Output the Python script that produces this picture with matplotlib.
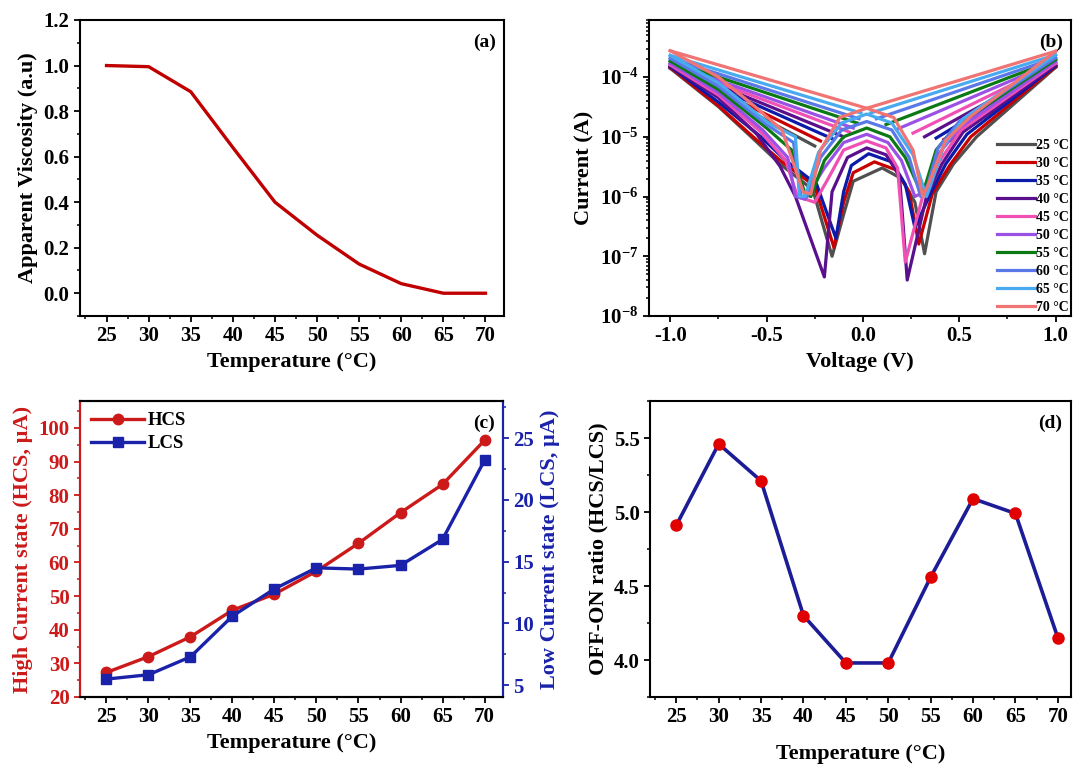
import numpy as np
import matplotlib
matplotlib.use("Agg")
import matplotlib.pyplot as plt
from matplotlib.ticker import MultipleLocator, FuncFormatter, LogLocator

# ----------------------------------------------------------------------
# DATA
# ----------------------------------------------------------------------
temps = [25, 30, 35, 40, 45, 50, 55, 60, 65, 70]

# (a) apparent viscosity
viscosity = [1.0, 0.995, 0.885, 0.64, 0.40, 0.255, 0.128, 0.042, 0.0, 0.0]

# (c) high / low current state (uA)
hcs = [27.3, 32.0, 37.9, 45.8, 50.6, 57.4, 65.7, 74.8, 83.2, 96.3]
lcs = [5.5, 5.85, 7.3, 10.6, 12.8, 14.5, 14.4, 14.7, 16.8, 23.2]

# (d) OFF-ON ratio
ratio = [4.91, 5.46, 5.21, 4.30, 3.98, 3.98, 4.56, 5.09, 4.99, 4.15]

# (b) I-V sweeps: key points (V in volts, I in amps)
iv_labels = ["25 °C", "30 °C", "35 °C", "40 °C", "45 °C",
             "50 °C", "55 °C", "60 °C", "65 °C", "70 °C"]
iv_colors = ["#505050", "#c80000", "#0c1aa8", "#5a0f8c", "#f050b4",
             "#9b50e6", "#0b7a14", "#5b78e8", "#4aaaf0", "#f07474"]
end_v_neg = [-1.0] * 10
end_v_pos = [1.0] * 10
i_neg_end = [1.4e-4, 1.45e-4, 1.5e-4, 1.55e-4, 1.6e-4, 1.7e-4, 1.85e-4, 2.05e-4, 2.3e-4, 2.75e-4]
i_pos_end = [1.45e-4, 1.5e-4, 1.55e-4, 1.6e-4, 1.7e-4, 1.8e-4, 1.95e-4, 2.1e-4, 2.35e-4, 2.7e-4]

# inner ends of the upper (high current) branches
up_left_v = [-0.25, -0.22, -0.15, -0.10, -0.07, -0.05, -0.03, -0.02, -0.01, 0.02]
up_left_i = [7e-6, 8.5e-6, 9e-6, 1.0e-5, 1.2e-5, 1.4e-5, 1.7e-5, 2.0e-5, 2.5e-5, 3.0e-5]
up_right_v = [0.45, 0.42, 0.38, 0.32, 0.26, 0.18, 0.12, 0.07, 0.04, 0.02]
up_right_i = [8.5e-6, 9e-6, 9.5e-6, 1.0e-5, 1.15e-5, 1.35e-5, 1.6e-5, 2.0e-5, 2.5e-5, 3.0e-5]

# lower (low current) branch, negative side, from -1 V inwards
mid_l_v = [-0.75] * 10
mid_l_i = [3.2e-5, 3.3e-5, 3.8e-5, 4.5e-5, 5e-5, 5.5e-5, 6.2e-5, 7e-5, 8e-5, 1.0e-4]
knee_l_v = [-0.58, -0.57, -0.53, -0.55, -0.53, -0.52, -0.50, -0.50, -0.49, -0.56]
knee_l_i = [1.0e-5, 1.0e-5, 1.0e-5, 1.1e-5, 1.2e-5, 1.3e-5, 1.4e-5, 1.6e-5, 1.7e-5, 3.2e-5]
shld_l_v = [-0.43, -0.42, -0.40, -0.43, -0.40, -0.39, -0.37, -0.36, -0.35, -0.42]
shld_l_i = [3.5e-6, 3.8e-6, 4e-6, 3.2e-6, 4e-6, 4.5e-6, 6e-6, 8e-6, 1.0e-5, 1.3e-5]
foot_l_v = [-0.26, -0.25, -0.24, -0.35, -0.34, -0.35, -0.30, -0.32, -0.33, -0.31]
foot_l_i = [1.3e-6, 1.5e-6, 1.6e-6, 1.0e-6, 1.0e-6, 1.0e-6, 1.1e-6, 1.0e-6, 1.0e-6, 1.2e-6]
dip_l_v = [-0.16, -0.15, -0.14, -0.20, -0.25, -0.30, -0.27, -0.29, -0.30, -0.27]
dip_l_i = [1.0e-7, 1.4e-7, 2.0e-7, 4.5e-8, 8e-7, 9e-7, 1.0e-6, 1.0e-6, 1.0e-6, 1.1e-6]

# central dome (arch) between the two dips
dome_a_v = [-0.10, -0.10, -0.10, -0.16, -0.18, -0.20, -0.20, -0.22, -0.23, -0.22]
dome_a_i = [5e-7, 8e-7, 1.2e-6, 1.2e-6, 2e-6, 3e-6, 4e-6, 4.5e-6, 5.5e-6, 6e-6]
dome_b_v = [-0.05, -0.05, -0.06, -0.08, -0.10, -0.10, -0.10, -0.11, -0.11, -0.12]
dome_b_i = [1.8e-6, 2.5e-6, 3.3e-6, 4.5e-6, 6e-6, 8e-6, 1.0e-5, 1.3e-5, 1.7e-5, 2.1e-5]
dome_p_v = [0.10, 0.06, 0.03, 0.02, 0.02, 0.02, 0.02, 0.02, 0.02, 0.02]
dome_p_i = [3.0e-6, 3.8e-6, 5.2e-6, 6.5e-6, 8.5e-6, 1.1e-5, 1.4e-5, 1.8e-5, 2.4e-5, 3.0e-5]
dome_c_v = [0.20, 0.17, 0.15, 0.12, 0.12, 0.13, 0.14, 0.15, 0.15, 0.16]
dome_c_i = [2.0e-6, 2.8e-6, 3.8e-6, 5e-6, 6.5e-6, 8e-6, 1.0e-5, 1.3e-5, 1.7e-5, 2.1e-5]
dome_d_v = [0.27, 0.24, 0.22, 0.19, 0.18, 0.20, 0.22, 0.24, 0.26, 0.26]
dome_d_i = [8e-7, 1.2e-6, 1.6e-6, 2.2e-6, 3e-6, 4e-6, 4.5e-6, 4.5e-6, 5e-6, 6e-6]

# lower branch, positive side, from the dip outwards to +1 V
dip_r_v = [0.32, 0.29, 0.27, 0.23, 0.22, 0.27, 0.30, 0.30, 0.33, 0.31]
dip_r_i = [1.1e-7, 1.6e-7, 3e-7, 4e-8, 8e-8, 1.0e-6, 1.2e-6, 1.0e-6, 1.0e-6, 1.0e-6]
foot_r_v = [0.38, 0.36, 0.35, 0.33, 0.31, 0.32, 0.32, 0.33, 0.35, 0.34]
foot_r_i = [1.2e-6, 1.1e-6, 1.1e-6, 1.0e-6, 1.0e-6, 1.2e-6, 1.4e-6, 1.3e-6, 1.5e-6, 1.6e-6]
shld_r_v = [0.47, 0.45, 0.43, 0.41, 0.40, 0.39, 0.38, 0.39, 0.42, 0.43]
shld_r_i = [3.5e-6, 3.3e-6, 3.5e-6, 3.5e-6, 4e-6, 5e-6, 6e-6, 6.5e-6, 7e-6, 8.7e-6]
knee_r_v = [0.59, 0.56, 0.54, 0.52, 0.51, 0.50, 0.49, 0.50, 0.52, 0.56]
knee_r_i = [1.0e-5, 1.0e-5, 1.1e-5, 1.2e-5, 1.3e-5, 1.4e-5, 1.6e-5, 1.8e-5, 2.0e-5, 2.2e-5]

# ----------------------------------------------------------------------
# STYLE
# ----------------------------------------------------------------------
plt.rcParams["font.family"] = ["Liberation Serif", "DejaVu Serif"]
plt.rcParams["font.weight"] = "bold"
plt.rcParams["axes.labelweight"] = "bold"
plt.rcParams["mathtext.fontset"] = "custom"
plt.rcParams["mathtext.rm"] = "Liberation Serif:bold"
plt.rcParams["mathtext.it"] = "Liberation Serif:bold"
plt.rcParams["mathtext.bf"] = "Liberation Serif:bold"
plt.rcParams["axes.linewidth"] = 1.5
plt.rcParams["xtick.major.width"] = 1.3
plt.rcParams["ytick.major.width"] = 1.3
plt.rcParams["xtick.minor.width"] = 1.1
plt.rcParams["ytick.minor.width"] = 1.1
plt.rcParams["xtick.major.size"] = 4
plt.rcParams["ytick.major.size"] = 4
plt.rcParams["xtick.minor.size"] = 2.5
plt.rcParams["ytick.minor.size"] = 2.5

W, H = 1076, 765
TICK_FS = 15
LABEL_FS = 16

RED = "#c00000"
C_RED = "#cc1a1a"
C_BLUE = "#1a22aa"
NAVY = "#1c1c96"


def px_axes(fig, left, right, top, bottom):
    return fig.add_axes([left / W, 1 - bottom / H, (right - left) / W, (bottom - top) / H])


def temp_xaxis(ax, lo=21.85, hi=72.2):
    ax.set_xlim(lo, hi)
    ax.set_xticks(temps)
    ax.xaxis.set_minor_locator(MultipleLocator(2.5))
    ax.set_xlabel("Temperature (°C)", fontsize=LABEL_FS)
    ax.tick_params(labelsize=TICK_FS)


def panel_tag(ax, text):
    ax.text(0.98, 0.955, text, transform=ax.transAxes, ha="right", va="top",
            fontsize=14, fontweight="bold")


fig = plt.figure(figsize=(W / 100, H / 100), dpi=100)

# ---------------- (a) viscosity ----------------
ax_a = px_axes(fig, 80, 504, 20, 316)
ax_a.plot(temps, viscosity, color=RED, lw=2.4)
temp_xaxis(ax_a)
ax_a.set_ylim(-0.1, 1.2)
ax_a.set_yticks(np.arange(0, 1.21, 0.2))
ax_a.yaxis.set_major_formatter(FuncFormatter(lambda v, p: f"{v:.1f}"))
ax_a.yaxis.set_minor_locator(MultipleLocator(0.1))
ax_a.set_ylabel("Apparent Viscosity (a.u)", fontsize=LABEL_FS)
panel_tag(ax_a, "(a)")

# ---------------- (b) I-V curves ----------------
ax_b = px_axes(fig, 649, 1071, 20, 316)
lower_cols = [(end_v_neg, i_neg_end), (mid_l_v, mid_l_i), (knee_l_v, knee_l_i),
              (shld_l_v, shld_l_i), (foot_l_v, foot_l_i), (dip_l_v, dip_l_i),
              (dome_a_v, dome_a_i), (dome_b_v, dome_b_i), (dome_p_v, dome_p_i),
              (dome_c_v, dome_c_i), (dome_d_v, dome_d_i), (dip_r_v, dip_r_i),
              (foot_r_v, foot_r_i), (shld_r_v, shld_r_i), (knee_r_v, knee_r_i),
              (end_v_pos, i_pos_end)]
for k in range(len(iv_labels)):
    col = iv_colors[k]
    # upper branches
    ax_b.plot([end_v_neg[k], up_left_v[k]], [i_neg_end[k], up_left_i[k]], color=col, lw=2.3)
    ax_b.plot([up_right_v[k], end_v_pos[k]], [up_right_i[k], i_pos_end[k]], color=col, lw=2.3)
    # lower branch with the central dome
    v_path = [vs[k] for vs, _ in lower_cols]
    i_path = [cs[k] for _, cs in lower_cols]
    ax_b.plot(v_path, i_path, color=col, lw=2.3, label=iv_labels[k])
ax_b.set_yscale("log")
ax_b.set_xlim(-1.11, 1.08)
ax_b.set_ylim(1e-8, 9e-4)
ax_b.set_xticks([-1.0, -0.5, 0.0, 0.5, 1.0])
ax_b.xaxis.set_major_formatter(FuncFormatter(lambda v, p: f"{v:.1f}"))
ax_b.xaxis.set_minor_locator(MultipleLocator(0.25))
ax_b.yaxis.set_major_locator(LogLocator(base=10, numticks=10))
ax_b.yaxis.set_major_formatter(FuncFormatter(lambda v, p: f"10$^{{{int(round(np.log10(v)))}}}$"))
ax_b.yaxis.set_minor_locator(LogLocator(base=10, subs=np.arange(2, 10), numticks=20))
ax_b.tick_params(labelsize=TICK_FS)
ax_b.set_xlabel("Voltage (V)", fontsize=LABEL_FS)
ax_b.set_ylabel("Current (A)", fontsize=LABEL_FS)
ax_b.legend(loc="lower right", frameon=False, fontsize=10, handlelength=2.7,
            handletextpad=0.1, labelspacing=0.36, borderpad=0.1, borderaxespad=0.05)
panel_tag(ax_b, "(b)")

# ---------------- (c) HCS / LCS ----------------
ax_c = px_axes(fig, 80, 503, 401, 697)
ax_c2 = ax_c.twinx()
h1, = ax_c.plot(temps, hcs, color=C_RED, lw=2.4, marker="o", ms=7.5, label="HCS")
h2, = ax_c2.plot(temps, lcs, color=C_BLUE, lw=2.4, marker="s", ms=6.5, label="LCS")
temp_xaxis(ax_c)
ax_c.set_ylim(20, 108)
ax_c.set_yticks(range(20, 101, 10))
ax_c.yaxis.set_minor_locator(MultipleLocator(5))
ax_c2.set_ylim(4.05, 28)
ax_c2.set_yticks([5, 10, 15, 20, 25])
ax_c2.yaxis.set_minor_locator(MultipleLocator(2.5))
ax_c.set_ylabel("High Current state (HCS, µA)", color=C_RED, fontsize=LABEL_FS)
ax_c2.set_ylabel("Low Current state (LCS, µA)", color=C_BLUE, fontsize=LABEL_FS)
ax_c.tick_params(axis="y", which="both", colors=C_RED, labelsize=TICK_FS)
ax_c2.tick_params(axis="y", which="both", colors=C_BLUE, labelsize=TICK_FS)
ax_c2.spines["left"].set_color(C_RED)
ax_c2.spines["right"].set_color(C_BLUE)
ax_c.legend(handles=[h1, h2], loc="upper left", frameon=False, fontsize=13.5,
            handlelength=2.8, handletextpad=0.2, labelspacing=0.3, borderaxespad=0.2)
panel_tag(ax_c, "(c)")

# ---------------- (d) OFF-ON ratio ----------------
ax_d = px_axes(fig, 650, 1071, 401, 697)
ax_d.plot(temps, ratio, color=NAVY, lw=2.6, marker="o", ms=8,
          markerfacecolor="#e00000", markeredgecolor="#e00000")
temp_xaxis(ax_d, 21.9, 71.55)
ax_d.set_ylim(3.75, 5.75)
ax_d.set_yticks([4.0, 4.5, 5.0, 5.5])
ax_d.yaxis.set_minor_locator(MultipleLocator(0.25))
ax_d.set_ylabel("OFF-ON ratio (HCS/LCS)", fontsize=LABEL_FS)
ax_d.xaxis.labelpad = 12
panel_tag(ax_d, "(d)")

fig.savefig("out.png", dpi=100)
